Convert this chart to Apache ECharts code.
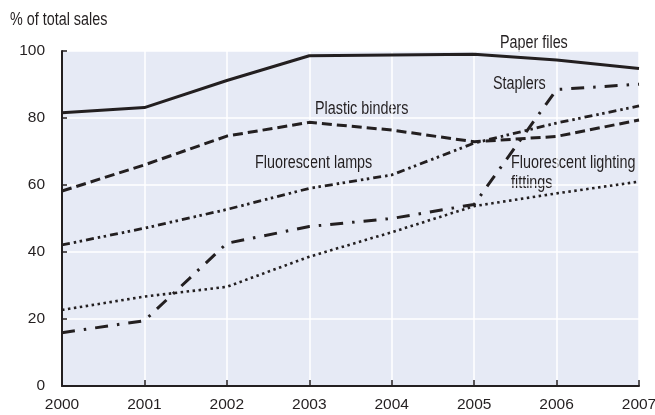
<!DOCTYPE html>
<html>
<head>
<meta charset="utf-8">
<script src="https://cdn.jsdelivr.net/npm/echarts@6/dist/echarts.min.js"></script>
<style>html,body{margin:0;padding:0;background:#fff}#c{width:655px;height:415px}</style>
</head>
<body>
<div id="c"></div>
<script>
const years = ['2000','2001','2002','2003','2004','2005','2006','2007'];
const yTicks = [0, 20, 40, 60, 80, 100];
const paperFiles = [81.6, 83.1, 91.2, 98.6, 98.8, 99.0, 97.3, 94.8];
const plasticBinders = [58.2, 66.0, 74.6, 78.7, 76.4, 72.9, 74.5, 79.4];
const fluorescentLamps = [42.1, 47.1, 52.7, 59.0, 63.0, 72.5, 78.5, 83.6];
const staplers = [15.9, 19.5, 42.6, 47.6, 50.0, 54.2, 88.5, 90.1];
const lightingFittings = [22.7, 26.7, 29.6, 38.6, 45.9, 53.7, 57.5, 61.0];

const ink = '#231f20';
const font = '"Liberation Sans", Arial, Helvetica, sans-serif';
const fs = 17.5;
function line(name, data, type, width) {
  return {
    name, type: 'line', data, symbol: 'none', silent: true,
    lineStyle: { color: ink, width: width || 2.8, type: type, cap: 'butt', join: 'round' }
  };
}
function label(text, x, y) {
  return { type: 'text', x: x, y: y, scaleX: 0.82, style: { text, font: fs + 'px ' + font, fill: ink, align: 'left', verticalAlign: 'middle' } };
}
const chart = echarts.init(document.getElementById('c'), null, { renderer: 'canvas' });
chart.setOption({
  animation: false,
  backgroundColor: '#ffffff',
  grid: { left: 62, right: 16, top: 51, bottom: 29, show: true, backgroundColor: '#e6eaf5', borderWidth: 0, outerBoundsMode: 'none', containLabel: false },
  xAxis: {
    type: 'category', data: years, boundaryGap: false,
    axisLine: { lineStyle: { color: ink, width: 2 } },
    axisTick: { inside: true, length: 6, lineStyle: { color: ink, width: 1.5 } },
    axisLabel: { fontFamily: font, fontSize: 15.5, color: ink, margin: 11, showMaxLabel: true, hideOverlap: false },
    splitLine: { show: true, lineStyle: { color: '#ffffff', width: 1.5 } }
  },
  yAxis: {
    type: 'value', min: yTicks[0], max: yTicks[yTicks.length - 1], interval: 20,
    axisLine: { show: true, lineStyle: { color: ink, width: 2 } },
    axisTick: { show: true, inside: true, length: 5, lineStyle: { color: ink, width: 1.5 } },
    axisLabel: { fontFamily: font, fontSize: 15.5, color: ink, margin: 17 },
    splitLine: { show: true, lineStyle: { color: '#ffffff', width: 1.5 } }
  },
  series: [
    line('Paper files', paperFiles, 'solid', 3),
    line('Plastic binders', plasticBinders, [10, 5], 3),
    line('Fluorescent lamps', fluorescentLamps, [8, 4, 2.5, 3.5, 2.5, 4], 2.8),
    line('Staplers', staplers, [13, 9, 2.5, 9], 3),
    line('Fluorescent lighting fittings', lightingFittings, [2.5, 3.5], 2.6)
  ],
  graphic: [
    label('% of total sales', 10, 20),
    label('Paper files', 500, 43),
    label('Staplers', 493, 84),
    label('Plastic binders', 315, 109),
    label('Fluorescent lamps', 255, 163),
    label('Fluorescent lighting', 511, 163),
    label('fittings', 511, 183)
  ]
});
</script>
</body>
</html>
